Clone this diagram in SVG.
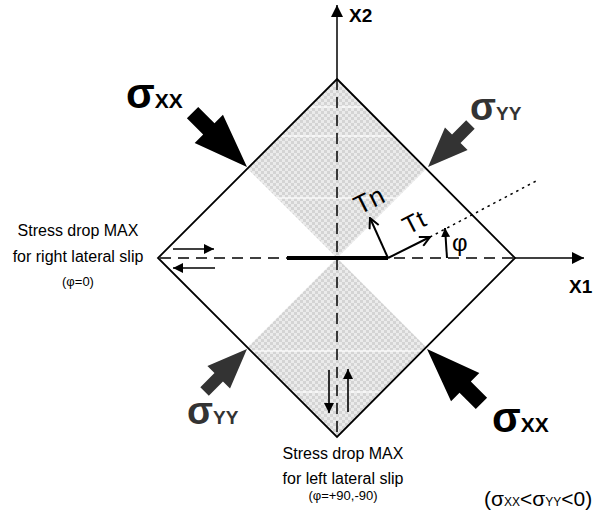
<svg xmlns="http://www.w3.org/2000/svg" width="594" height="517" viewBox="0 0 594 517">
<defs>
<pattern id="chk" width="6" height="6" patternUnits="userSpaceOnUse">
<rect width="6" height="6" fill="#ebebeb"/>
<rect width="3" height="3" fill="#d4d4d4"/>
<rect x="3" y="3" width="3" height="3" fill="#d4d4d4"/>
</pattern>
<clipPath id="shadeClip">
<polygon points="337,79 247.5,168.5 337,258 426.5,168.5"/>
<polygon points="337,258 247.5,347.5 337,437 426.5,347.5"/>
</clipPath>
<marker id="ah" viewBox="0 0 10 10" refX="10" refY="5" markerWidth="10" markerHeight="10" markerUnits="userSpaceOnUse" orient="auto">
<path d="M0,0 L10,5 L0,10 z" fill="#000"/>
</marker>
<marker id="av" viewBox="0 0 12 12" refX="11" refY="6" markerWidth="12" markerHeight="12" markerUnits="userSpaceOnUse" orient="auto">
<path d="M1,1 L11,6 L1,11" fill="none" stroke="#000" stroke-width="2"/>
</marker>
<marker id="ahs" viewBox="0 0 10 10" refX="10" refY="5" markerWidth="9" markerHeight="9" markerUnits="userSpaceOnUse" orient="auto">
<path d="M0,0 L10,5 L0,10 z" fill="#000"/>
</marker>
<marker id="axh" viewBox="0 0 10 10" refX="10" refY="5" markerWidth="18" markerHeight="12" markerUnits="userSpaceOnUse" orient="auto">
<path d="M0,0 L10,5 L0,10 z" fill="#000"/>
</marker>
<polygon id="bigArrow" points="0,0 -54,-20 -54,-8 -77,-8 -77,8 -54,8 -54,20"/>
<polygon id="smallArrow" points="0,0 -40,-16 -40,-6 -60,-6 -60,6 -40,6 -40,16"/>
</defs>
<style>
.t{font-family:"Liberation Sans",Arial,sans-serif;fill:#000}
.ax{font-family:"Liberation Sans",Arial,sans-serif;font-weight:bold;font-size:19px}
.dash{stroke:#000;stroke-width:1.5;stroke-dasharray:11 7;fill:none}
.edge{stroke:#000;stroke-width:1.8;fill:none}
.sig{font-family:"Liberation Sans",Arial,sans-serif;font-weight:bold}
</style>
<rect width="594" height="517" fill="#fff"/>

<g id="shading" clip-path="url(#shadeClip)">
<rect x="240" y="75" width="195" height="370" fill="url(#chk)"/>
<g stroke="#fff" stroke-width="1.5" opacity="0.8">
<line x1="240" y1="107" x2="440" y2="107"/>
<line x1="240" y1="136" x2="440" y2="136"/>
<line x1="240" y1="198" x2="440" y2="198"/>
<line x1="240" y1="351" x2="440" y2="351"/>
<line x1="240" y1="392" x2="440" y2="392"/>
</g>
</g>

<g id="diamond">
<polygon class="edge" points="337,79 515,258 337,437 158,258"/>
</g>

<g id="connectors">
<line class="dash" x1="337" y1="79" x2="337" y2="437"/>
<line class="dash" x1="160" y1="258" x2="515" y2="258"/>
<line x1="337" y1="79" x2="337" y2="5" stroke="#000" stroke-width="1.5" marker-end="url(#axh)"/>
<line x1="515" y1="258" x2="584" y2="258" stroke="#000" stroke-width="1.5" marker-end="url(#axh)"/>
<line x1="430" y1="237" x2="538" y2="180" stroke="#000" stroke-width="1.5" stroke-dasharray="2.5 4"/>
<line x1="287" y1="258" x2="388" y2="258" stroke="#000" stroke-width="4"/>
<line x1="388" y1="258" x2="370" y2="218" stroke="#000" stroke-width="2" marker-end="url(#av)"/>
<line x1="388" y1="258" x2="430" y2="237" stroke="#000" stroke-width="2" marker-end="url(#av)"/>
<line x1="447" y1="258" x2="445" y2="228" stroke="#000" stroke-width="2" marker-end="url(#ahs)"/>
<line x1="173" y1="249" x2="214" y2="249" stroke="#000" stroke-width="1.6" marker-end="url(#ah)"/>
<line x1="215" y1="268" x2="173" y2="268" stroke="#000" stroke-width="1.6" marker-end="url(#ah)"/>
<line x1="329" y1="370" x2="329" y2="413" stroke="#000" stroke-width="1.6" marker-end="url(#ah)"/>
<line x1="348" y1="412" x2="348" y2="369" stroke="#000" stroke-width="1.6" marker-end="url(#ah)"/>
</g>

<g id="sigmaXX-top">
<use href="#bigArrow" transform="translate(247,167) rotate(45)" fill="#000"/>
<text class="sig" x="126" y="108"><tspan font-size="42">σ</tspan><tspan font-size="21">XX</tspan></text>
</g>
<g id="sigmaYY-top">
<use href="#smallArrow" transform="translate(428,167) rotate(135)" fill="#333"/>
<text class="sig" x="470" y="120" fill="#333"><tspan font-size="38">σ</tspan><tspan font-size="19">YY</tspan></text>
</g>
<g id="sigmaYY-bottom">
<use href="#smallArrow" transform="translate(247,349) rotate(-45)" fill="#333"/>
<text class="sig" x="187" y="424" fill="#333"><tspan font-size="38">σ</tspan><tspan font-size="19">YY</tspan></text>
</g>
<g id="sigmaXX-bottom">
<use href="#bigArrow" transform="translate(427,349) rotate(-135)" fill="#000"/>
<text class="sig" x="492" y="432"><tspan font-size="42">σ</tspan><tspan font-size="21">XX</tspan></text>
</g>

<g id="axis-labels">
<text class="ax" x="349" y="22">X2</text>
<text class="ax" x="569" y="293">X1</text>
</g>

<g id="vector-labels">
<text class="t" font-size="26" transform="translate(373,208) rotate(-27)" text-anchor="middle">Tn</text>
<text class="t" font-size="25" transform="translate(418,230) rotate(-27)" text-anchor="middle">Tt</text>
<text class="t" font-size="24" x="452" y="251">φ</text>
</g>

<g id="left-text">
<text class="t" font-size="16" x="78" y="236" text-anchor="middle">Stress drop MAX</text>
<text class="t" font-size="16" x="78" y="262" text-anchor="middle">for right lateral slip</text>
<text class="t" font-size="13" x="78" y="286" text-anchor="middle">(φ=0)</text>
</g>

<g id="bottom-text">
<text class="t" font-size="16" x="343" y="459" text-anchor="middle">Stress drop MAX</text>
<text class="t" font-size="16" x="343" y="484" text-anchor="middle">for left lateral slip</text>
<text class="t" font-size="13" x="343" y="500" text-anchor="middle">(φ=+90,-90)</text>
</g>

<g id="condition">
<text class="t" x="484" y="506" font-size="21">(σ<tspan font-size="12">XX</tspan>&lt;σ<tspan font-size="12">YY</tspan>&lt;0)</text>
</g>
</svg>
